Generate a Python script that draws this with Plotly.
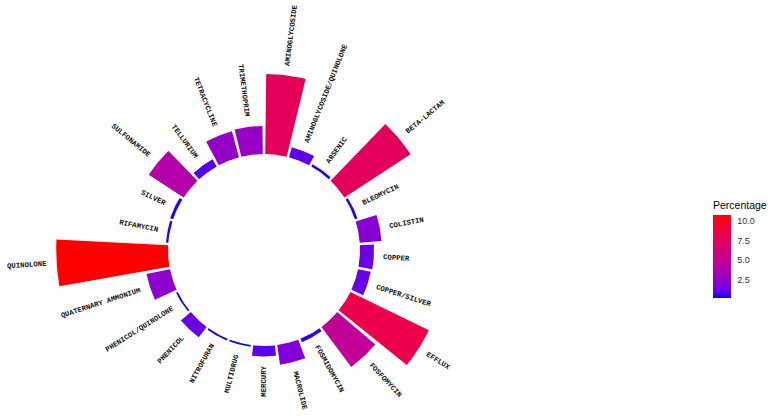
import numpy as np
import plotly.graph_objects as go

categories = ["AMINOGLYCOSIDE", "AMINOGLYCOSIDE/QUINOLONE", "ARSENIC", "BETA-LACTAM",
              "BLEOMYCIN", "COLISTIN", "COPPER", "COPPER/SILVER", "EFFLUX", "FOSFOMYCIN",
              "FOSMIDOMYCIN", "MACROLIDE", "MERCURY", "MULTIDRUG", "NITROFURAN", "PHENICOL",
              "PHENICOL/QUINOLONE", "QUATERNARY AMMONIUM", "QUINOLONE", "RIFAMYCIN", "SILVER",
              "SULFONAMIDE", "TELLURIUM", "TETRACYCLINE", "TRIMETHOPRIM"]
percentage = [7.7, 1.0, 0.25, 7.6, 0.25, 2.1, 1.35, 1.25, 8.4, 4.8,
              0.35, 1.9, 1.0, 0.17, 0.17, 1.25, 0.17, 2.3, 10.75, 0.22, 0.3,
              4.0, 0.8, 2.6, 2.7]
cbar_ticks = [2.5, 5.0, 7.5, 10.0]
cbar_ticktext = ["2.5", "5.0", "7.5", "10.0"]

W, H = 773, 416
CX, CY = 264, 250          # centre of the circle, px from left / top
K = 10.4                   # px per percentage unit
HOLE = 96 / K              # inner hole radius in percentage units
BAR_WIDTH = 0.9            # fraction of each sector covered by its bar

# --- Lab interpolation blue -> red (like ggplot's gradient) ---
M = np.array([[0.4124564, 0.3575761, 0.1804375],
              [0.2126729, 0.7151522, 0.0721750],
              [0.0193339, 0.1191920, 0.9503041]])
WHITE = np.array([0.95047, 1.0, 1.08883])

def rgb2lab(rgb):
    c = np.array(rgb) / 255.0
    c = np.where(c > 0.04045, ((c + 0.055) / 1.055) ** 2.4, c / 12.92)
    xyz = M @ c / WHITE
    f = np.where(xyz > 0.008856, np.cbrt(xyz), 7.787 * xyz + 16 / 116)
    return np.array([116 * f[1] - 16, 500 * (f[0] - f[1]), 200 * (f[1] - f[2])])

def lab2rgb(lab):
    L, a, b = lab
    fy = (L + 16) / 116
    fx = fy + a / 500
    fz = fy - b / 200
    f = np.array([fx, fy, fz])
    xyz = np.where(f ** 3 > 0.008856, f ** 3, (f - 16 / 116) / 7.787) * WHITE
    c = np.linalg.solve(M, xyz)
    c = np.clip(c, 0, 1)
    c = np.where(c > 0.0031308, 1.055 * c ** (1 / 2.4) - 0.055, 12.92 * c)
    c = np.clip(np.round(c * 255), 0, 255).astype(int)
    return "rgb(%d,%d,%d)" % tuple(c)

lab_lo, lab_hi = rgb2lab([0, 0, 255]), rgb2lab([255, 0, 0])
colorscale = [[t, lab2rgb(lab_lo + (lab_hi - lab_lo) * t)] for t in np.linspace(0, 1, 21)]

vmin, vmax = min(percentage), max(percentage)
n = len(categories)
step = 360.0 / n

fig = go.Figure()

# bars: one filled sector per category, from the hole edge (value 0) out to the value
for i, (cat, v) in enumerate(zip(categories, percentage)):
    t0 = i * step + step * (1 - BAR_WIDTH) / 2
    t1 = (i + 1) * step - step * (1 - BAR_WIDTH) / 2
    arc = np.deg2rad(np.linspace(t0, t1, 24))
    ang = np.concatenate([arc, arc[::-1], arc[:1]])
    rad = HOLE + np.concatenate([np.full(arc.size, v), np.zeros(arc.size), [v]])
    col = lab2rgb(lab_lo + (lab_hi - lab_lo) * (v - vmin) / (vmax - vmin))
    fig.add_trace(go.Scatter(x=rad * np.sin(ang), y=rad * np.cos(ang),
                             mode="lines", fill="toself",
                             fillcolor=col, line=dict(width=0, color=col),
                             name=cat, hovertext="%s: %.2f" % (cat, v), hoverinfo="text",
                             hoveron="fills", showlegend=False))

# colour bar from an invisible marker trace
fig.add_trace(go.Scatter(
    x=[None, None], y=[None, None], mode="markers",
    marker=dict(color=[vmin, vmax], colorscale=colorscale, cmin=vmin, cmax=vmax,
                showscale=True,
                colorbar=dict(
                    title=dict(text="Percentage", side="top",
                               font=dict(family="Liberation Sans, Arial", size=10.5, color="#000")),
                    x=713 / W, xanchor="left", xpad=0,
                    y=1 - 248 / H, yanchor="middle", ypad=0,
                    len=100, lenmode="pixels", thickness=18, thicknessmode="pixels",
                    outlinewidth=0,
                    tickvals=cbar_ticks, ticktext=cbar_ticktext,
                    ticks="outside", ticklen=5, tickcolor="rgba(0,0,0,0)",
                    tickfont=dict(family="Liberation Sans, Arial", size=9, color="#333"),
                )),
    hoverinfo="skip", showlegend=False))

FONT_SIZE = 7.3
CHAR_W = 0.6 * FONT_SIZE
annotations = []
for i, (cat, v) in enumerate(zip(categories, percentage)):
    phi = (i + 0.5) * step
    length = len(cat) * CHAR_W / K
    r = HOLE + v + 10 / K + length / 2
    rad = np.deg2rad(phi)
    ang = phi - 90 if phi < 180 else phi - 270
    annotations.append(dict(x=r * np.sin(rad), y=r * np.cos(rad), xref="x", yref="y",
                            text="<b>%s</b>" % cat, showarrow=False, textangle=ang,
                            xanchor="center", yanchor="middle",
                            font=dict(family="Liberation Mono, monospace", size=FONT_SIZE,
                                      color="#111")))

fig.update_layout(
    width=W, height=H,
    margin=dict(l=0, r=0, t=0, b=0),
    paper_bgcolor="white", plot_bgcolor="white",
    xaxis=dict(domain=[0, 1], range=[-CX / K, (W - CX) / K], visible=False, fixedrange=True),
    yaxis=dict(domain=[0, 1], range=[-(H - CY) / K, CY / K], visible=False, fixedrange=True),
    annotations=annotations,
)

fig.write_html("out.html", config={"displayModeBar": False},
               post_script="document.body.style.margin='0px';document.body.style.padding='0px';")
